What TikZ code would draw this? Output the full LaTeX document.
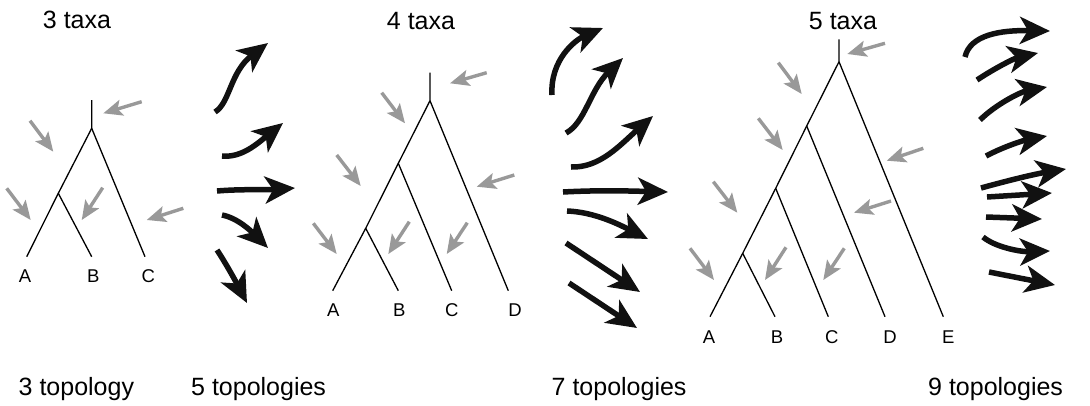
\documentclass[tikz,border=0pt]{standalone}
\usepackage{fontspec}
\setmainfont{Liberation Sans}
\usetikzlibrary{arrows.meta}
\definecolor{markgray}{HTML}{999999}
\definecolor{inkblack}{HTML}{111111}
\tikzset{
  branch/.style={line width=1.3pt, black},
  gmark/.style={draw=markgray, line width=3.4pt,
    -{Stealth[length=19pt,width=16pt,inset=4pt]}},
  swing/.style={draw=inkblack, line width=5.5pt,
    -{Stealth[length=30pt,width=27pt,inset=8pt]}},
  taxon/.style={font=\fontsize{18.5}{22}\selectfont, inner sep=0pt, anchor=base},
  heading/.style={font=\fontsize{25}{30}\selectfont, inner sep=0pt, anchor=base},
  caption/.style={font=\fontsize{25}{30}\selectfont, inner sep=0pt, anchor=base west},
}
% gray marker arrow between two named coordinates
\newcommand{\gmk}[3]{\coordinate (#1t) at #2; \coordinate (#1h) at #3; \draw[gmark] (#1t) -- (#1h);}
\begin{document}
\begin{tikzpicture}[x=1pt,y=-1pt]
\useasboundingbox (0,0) rectangle (1090,405);

% ---------- headings ----------
\node[heading] (h3) at (77,28) {3 taxa};
\node[heading] (h4) at (421,29) {4 taxa};
\node[heading] (h5) at (843,29) {5 taxa};

\node[caption] (f3) at (18.5,395) {3 topology};
\node[caption] (f5) at (191,395) {5 topologies};
\node[caption] (f7) at (551.5,395) {7 topologies};
\node[caption] (f9) at (928,395) {9 topologies};

% ---------- tree with 3 taxa ----------
\coordinate (t1top) at (91.7,100);
\coordinate (t1r) at (91.7,128.3);
\coordinate (t1n) at (58.3,193.3);
\coordinate (t1a) at (26.7,256.7);
\coordinate (t1b) at (91.7,256.7);
\coordinate (t1c) at (145,256.7);
\draw[branch] (t1top) -- (t1r) -- (t1n) -- (t1a);
\draw[branch] (t1n) -- (t1b);
\draw[branch] (t1r) -- (t1c);
\node[taxon] (t1A) at (25,282.7) {A};
\node[taxon] (t1B) at (93.3,282.7) {B};
\node[taxon] (t1C) at (148.3,282.7) {C};
\gmk{t1g1}{(141.7,101.7)}{(103.3,113.3)}
\gmk{t1g2}{(30,120.7)}{(53.3,151.7)}
\gmk{t1g3}{(6.7,188.3)}{(30.7,220)}
\gmk{t1g4}{(102.7,187.7)}{(81.7,220)}
\gmk{t1g5}{(183.3,208.3)}{(146.7,220)}

% ---------- tree with 4 taxa ----------
\coordinate (t2top) at (430,72.7);
\coordinate (t2r) at (430,100.7);
\coordinate (t2n2) at (398.3,163.3);
\coordinate (t2n3) at (365.7,228.3);
\coordinate (t2a) at (332.7,290.7);
\coordinate (t2b) at (398.3,290.7);
\coordinate (t2c) at (451.7,290.7);
\coordinate (t2d) at (508.3,290.7);
\draw[branch] (t2top) -- (t2r) -- (t2n2) -- (t2n3) -- (t2a);
\draw[branch] (t2n3) -- (t2b);
\draw[branch] (t2n2) -- (t2c);
\draw[branch] (t2r) -- (t2d);
\node[taxon] (t2A) at (333.3,316.7) {A};
\node[taxon] (t2B) at (399.3,316.7) {B};
\node[taxon] (t2C) at (451.7,316.7) {C};
\node[taxon] (t2D) at (515,316.7) {D};
\gmk{t2g1}{(486.7,72.7)}{(450,83.3)}
\gmk{t2g2}{(381.7,92.7)}{(405,123.3)}
\gmk{t2g3}{(336.7,155)}{(360.7,186)}
\gmk{t2g4}{(313.3,223.3)}{(336.7,254)}
\gmk{t2g5}{(409.3,221.7)}{(388.3,254)}
\gmk{t2g6}{(467.3,222.7)}{(446.7,254)}
\gmk{t2g7}{(514.3,175)}{(476.7,186.7)}

% ---------- tree with 5 taxa ----------
\coordinate (t3top) at (839,39.3);
\coordinate (t3r) at (839,61.7);
\coordinate (t3n2) at (806.7,126);
\coordinate (t3n3) at (775.7,188.3);
\coordinate (t3n4) at (742.7,253.3);
\coordinate (t3a) at (710,316.7);
\coordinate (t3b) at (775,316.7);
\coordinate (t3c) at (828.3,316.7);
\coordinate (t3d) at (885,316.7);
\coordinate (t3e) at (943.3,316.7);
\draw[branch] (t3top) -- (t3r) -- (t3n2) -- (t3n3) -- (t3n4) -- (t3a);
\draw[branch] (t3n4) -- (t3b);
\draw[branch] (t3n3) -- (t3c);
\draw[branch] (t3n2) -- (t3d);
\draw[branch] (t3r) -- (t3e);
\node[taxon] (t3A) at (709,343.3) {A};
\node[taxon] (t3B) at (777,343.3) {B};
\node[taxon] (t3C) at (831.7,343.3) {C};
\node[taxon] (t3D) at (890,343.3) {D};
\node[taxon] (t3E) at (948.3,343.3) {E};
\gmk{t3g1}{(885,43.3)}{(847.3,54)}
\gmk{t3g2}{(778.3,62.7)}{(801.7,94)}
\gmk{t3g3}{(758.3,118.3)}{(782.7,150)}
\gmk{t3g4}{(713.3,181.7)}{(737.3,212.7)}
\gmk{t3g5}{(690,248.3)}{(714,280)}
\gmk{t3g6}{(786,247.3)}{(765,280)}
\gmk{t3g7}{(844.3,248.3)}{(823.3,280)}
\gmk{t3g8}{(891,201)}{(854,212.7)}
\gmk{t3g9}{(923.3,148.3)}{(886.7,160.7)}

% ---------- five swinging arrows ----------
\draw[swing] (215,112) .. controls (230,103) and (230,72) .. (268,43);
\draw[swing] (222,156) .. controls (242,158) and (258,143) .. (283,123);
\draw[swing] (217,191) .. controls (240,189) and (265,190) .. (295,188);
\draw[swing] (222,215) .. controls (238,218) and (252,232) .. (268,248);
\draw[swing] (217,250) .. controls (225,262) and (235,280) .. (247,303);

% ---------- seven swinging arrows ----------
\draw[swing] (552,95) .. controls (550,60) and (575,40) .. (603,28);
\draw[swing] (566,133) .. controls (585,123) and (590,90) .. (623,58);
\draw[swing] (571,167) .. controls (600,168) and (620,145) .. (653,116);
\draw[swing] (563,192) .. controls (600,190) and (630,191) .. (668,192);
\draw[swing] (567,211) .. controls (595,212) and (620,225) .. (648,239);
\draw[swing] (566,243) -- (640,292);
\draw[swing] (569,283) -- (637,328);

% ---------- nine swinging arrows ----------
\draw[swing] (965,57) .. controls (970,35) and (1000,30) .. (1050,31);
\draw[swing] (977,80) .. controls (995,68) and (1015,58) .. (1038,53);
\draw[swing] (980,120) .. controls (995,105) and (1020,92) .. (1047,87);
\draw[swing] (986,156) .. controls (1005,146) and (1025,140) .. (1047,136);
\draw[swing] (981,188) .. controls (1010,180) and (1035,174) .. (1066,169);
\draw[swing] (987,197) -- (1052,193);
\draw[swing] (986,217) -- (1042,219);
\draw[swing] (983,237) .. controls (995,247) and (1020,252) .. (1050,251);
\draw[swing] (989,272) -- (1055,285);
\end{tikzpicture}
\end{document}
